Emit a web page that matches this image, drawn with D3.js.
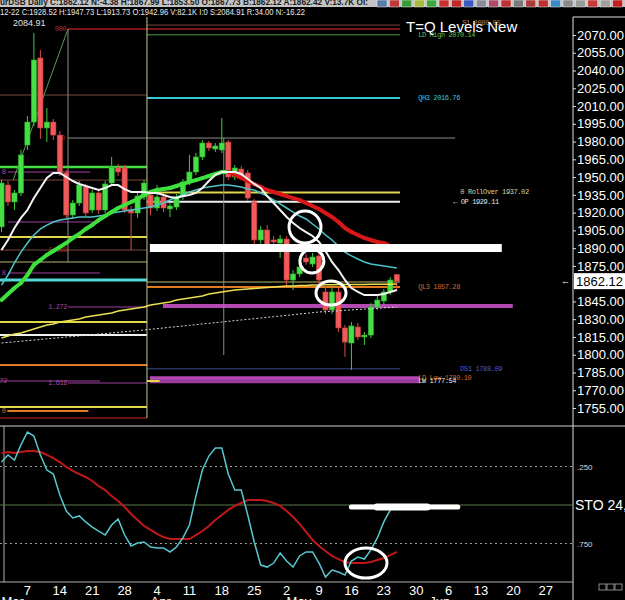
<!DOCTYPE html>
<html>
<head>
<meta charset="utf-8">
<script src="https://cdn.jsdelivr.net/npm/d3@7"></script>
<style>
  body { margin: 0; background: #000; overflow: hidden; }
  svg { display: block; }
</style>
</head>
<body>
<div id="chart"></div>
<script>
// daily bars (index 0 = first visible bar)
const opens = [1907.9,1943.3,1929.0,1936.6,1977.1,1996.5,2050.6,1991.5,1996.5,1985.5,
  1953.5,1918.0,1928.1,1941.6,1922.2,1936.6,1922.2,1945.0,1957.7,1957.7,
  1922.2,1919.7,1933.2,1934.9,1923.9,1933.2,1923.1,1924.7,1933.2,1945.9,
  1954.3,1967.0,1978.8,1973.7,1972.9,1979.6,1950.1,1956.8,1953.5,1929.0,
  1896.9,1905.3,1896.9,1894.3,1897.7,1863.1,1868.2,1881.7,1876.6,1883.4,
  1853.0,1837.8,1853.0,1822.6,1809.9,1823.4,1815.0,1816.6,1840.3,1845.4,
  1853.0,1867.73]
const highs = [1947.5,1946.7,1939.1,1972.9,2001.6,2071.7,2057.3,2008.4,1999.1,1988.9,
  1956.0,1930.7,1946.7,1944.2,1939.1,1939.1,1946.7,1967.0,1961.1,1960.2,
  1925.6,1937.4,1947.5,1937.4,1943.3,1936.6,1928.1,1935.7,1948.4,1968.7,
  1970.3,1981.3,1980.5,1978.8,1999.9,1981.3,1960.2,1959.4,1956.0,1931.5,
  1908.7,1909.5,1900.2,1901.1,1900.2,1871.5,1877.5,1885.1,1885.9,1885.9,
  1858.0,1856.3,1856.3,1825.1,1827.6,1826.8,1819.2,1843.7,1849.6,1855.5,
  1865.6,1867.99]
const lows = [1903.6,1925.6,1922.2,1934.0,1972.9,1993.1,1982.2,1979.6,1981.3,1950.9,
  1914.6,1914.6,1925.6,1917.1,1919.7,1918.8,1919.7,1942.5,1950.9,1919.7,
  1888.4,1915.5,1930.7,1918.0,1921.4,1920.5,1916.3,1922.2,1930.7,1943.3,
  1951.8,1964.4,1972.0,1971.2,1970.3,1947.5,1947.5,1947.5,1929.8,1893.5,
  1893.5,1886.7,1888.4,1881.7,1858.0,1854.6,1865.6,1875.8,1874.1,1858.9,
  1834.4,1834.4,1819.2,1798.1,1787.1,1812.4,1808.2,1814.1,1837.8,1842.8,
  1850.4,1853.50]
const closes = [1945.0,1929.0,1936.6,1968.7,1996.5,2048.9,1991.5,1996.5,1985.5,1953.5,
  1918.0,1928.1,1943.3,1919.7,1936.6,1922.2,1944.2,1958.5,1954.3,1922.2,
  1919.7,1934.0,1945.0,1923.9,1933.2,1923.9,1925.6,1933.2,1945.9,1954.3,
  1967.0,1978.8,1974.6,1976.3,1978.8,1950.1,1957.7,1950.1,1932.3,1896.9,
  1905.3,1890.1,1895.2,1897.7,1863.1,1868.2,1874.1,1878.3,1882.5,1863.1,
  1837.8,1853.0,1822.6,1810.7,1824.3,1815.0,1816.6,1840.3,1846.2,1853.0,
  1863.1,1862.12]

// moving averages
const maSlow = [1846.2,1851.3,1856.3,1860.6,1867.3,1875.8,1880.0,1884.2,1887.6,1891.0,
  1894.3,1898.6,1901.9,1906.2,1909.5,1913.8,1917.1,1920.5,1923.9,1926.4,
  1929.0,1931.5,1934.9,1937.4,1939.1,1939.9,1940.8,1942.5,1944.2,1945.9,
  1947.5,1949.2,1950.9,1952.6,1954.3,1954.3,1951.8,1949.2,1946.7,1944.2,
  1941.6,1939.1,1937.4,1935.7,1934.0,1932.3,1930.7,1928.1,1925.6,1923.1,
  1919.7,1916.3,1912.1,1907.0,1903.6,1901.1,1898.6,1896.9,1895.2,1894.3,
  1891.8,1889.3]
const maFast = [1888.4,1896.9,1907.0,1915.5,1922.2,1932.3,1940.8,1949.2,1953.5,1953.5,
  1950.1,1946.7,1944.2,1942.5,1940.8,1939.1,1940.8,1943.3,1943.3,1939.9,
  1937.4,1937.4,1937.4,1936.6,1936.6,1934.9,1933.2,1932.3,1934.0,1934.9,
  1936.6,1940.8,1946.7,1951.8,1954.3,1954.3,1954.3,1952.6,1948.4,1944.2,
  1940.8,1934.0,1928.1,1922.2,1916.3,1911.2,1907.0,1903.6,1900.3,1895.2,
  1887.6,1878.3,1871.5,1863.1,1856.3,1853.0,1850.4,1850.4,1850.4,1851.3,
  1853.0,1854.7]
const maMid = [1858.9,1867.3,1877.5,1886.7,1894.3,1901.1,1906.2,1909.5,1912.1,1913.8,
  1914.6,1915.5,1916.3,1916.3,1916.3,1917.1,1918.0,1919.7,1920.5,1921.4,
  1922.2,1923.1,1923.9,1924.7,1926.4,1928.1,1930.7,1933.2,1934.9,1937.4,
  1939.1,1940.8,1941.6,1942.5,1943.3,1943.3,1942.5,1941.6,1939.9,1939.1,
  1936.6,1934.0,1930.7,1927.3,1923.9,1920.5,1917.1,1914.6,1910.4,1906.2,
  1901.1,1896.9,1891.8,1886.7,1883.4,1880.8,1878.3,1876.6,1875.8,1874.9,
  1874.1,1873.2]
const maLong = [1814.1,1815.8,1817.5,1818.3,1820.0,1821.7,1823.4,1825.1,1825.9,1827.6,
  1828.5,1829.3,1830.2,1831.8,1832.7,1833.5,1834.4,1835.2,1836.9,1837.8,
  1838.6,1839.4,1840.3,1842.0,1842.8,1843.7,1844.5,1846.2,1847.0,1847.9,
  1848.7,1849.6,1851.3,1852.1,1853.0,1853.8,1854.7,1855.1,1855.5,1855.9,
  1856.3,1856.8,1857.2,1857.6,1858.0,1858.0,1858.5,1858.5,1858.9,1858.9,
  1859.0,1859.1,1859.2,1859.3,1859.3,1859.4,1859.4,1859.5,1859.5,1859.6,
  1859.6,1859.7]
const maDotted = [1809.9,1810.4,1810.9,1811.4,1811.9,1812.4,1812.9,1813.4,1813.9,1814.4,
  1814.9,1815.4,1815.9,1816.4,1816.9,1817.4,1817.9,1818.4,1818.9,1819.4,
  1819.9,1820.4,1820.9,1821.5,1822.0,1822.6,1823.2,1823.7,1824.3,1824.8,
  1825.4,1826.0,1826.5,1827.1,1827.6,1828.2,1828.8,1829.3,1829.9,1830.4,
  1831.0,1831.6,1832.1,1832.7,1833.2,1833.8,1834.4,1834.9,1835.5,1836.1,
  1836.4,1836.8,1837.1,1837.5,1837.8,1838.2,1838.5,1838.9,1839.2,1839.6,
  1839.9,1840.3]

// stochastic
const stoK = [77.9,82.5,79.2,89.0,97.4,94.8,82.5,72.7,70.1,56.5,
  46.1,41.6,42.9,39.0,35.7,33.1,30.5,37.0,40.9,30.5,
  23.4,25.3,26.0,22.7,22.1,22.1,19.5,22.7,28.6,37.0,
  55.8,72.7,81.8,87.0,87.0,70.1,59.7,59.7,43.5,26.0,
  11.0,9.7,12.3,18.8,13.6,9.7,16.9,19.5,19.5,12.3,
  3.2,7.8,6.5,4.5,13.6,16.2,14.9,20.8,28.6,39.0,
  46.8,48.7]
const stoD = [83.8,84.4,83.8,84.4,85.1,85.1,84.4,82.5,80.5,77.9,
  74.7,72.1,70.1,68.2,65.6,62.3,59.7,55.8,52.6,48.7,
  44.2,40.3,36.4,33.8,31.2,29.2,27.9,27.9,27.9,27.9,
  30.5,33.1,36.4,40.3,43.5,46.8,49.4,51.3,53.2,53.2,
  53.2,52.6,51.3,49.4,46.1,42.2,37.7,32.5,27.3,23.4,
  20.1,16.9,14.9,13.0,12.3,12.3,12.3,13.0,14.3,15.6,
  17.5,19.5]

const priceTicks = [2070,2055,2040,2025,2010,1995,1980,1965,1950,1935,1920,1905,1890,1875,1845,1830,1815,1800,1785,1770,1755]
const lastPrice = 1862.12
const dayTickBars = [4,9,14,19,24,29,34,39,44,49,54,59,64,69,74,79,84]
const dayTickLabels = ['7','14','21','28','4','11','18','25','2','9','16','23','30','6','13','20','27']
const monthBars = [0, 23, 44, 66]
const monthLabels = ['Mar', 'Apr', 'May', 'Jun']

// horizontal levels: price, from bar, to bar, kind
const levels = [
  {price: 2078.4, from: 22.45, to: 61.5, kind: 'brown'},
  {price: 2075.1, from: 10.26, to: 61.5, kind: 'fibRed'},
  {price: 2070.14, from: 22.45, to: 61.5, kind: 'ldHigh'},
  {price: 2019.3, from: -1, to: 22.45, kind: 'brown'},
  {price: 2016.76, from: 22.45, to: 61.5, kind: 'qh3'},
  {price: 1983.0, from: 10.26, to: 70, kind: 'gray'},
  {price: 1958.5, from: -1, to: 22.45, kind: 'green'},
  {price: 1954.3, from: 1, to: 13.7, kind: 'magenta'},
  {price: 1947.5, from: -1, to: 22.45, kind: 'brown'},
  {price: 1937.02, from: 22.45, to: 61.5, kind: 'yellow'},
  {price: 1929.11, from: 22.45, to: 61.5, kind: 'white'},
  {price: 1912.1, from: 1, to: 15.2, kind: 'magenta'},
  {price: 1899.4, from: -1, to: 22.45, kind: 'yellow'},
  {price: 1888.4, from: -1, to: 22.45, kind: 'brown'},
  {price: 1878.3, from: -1, to: 22.45, kind: 'olive'},
  {price: 1869.0, from: 1, to: 15.2, kind: 'magenta'},
  {price: 1863.1, from: -1, to: 22.45, kind: 'cyanThick'},
  {price: 1861.4, from: 22.45, to: 61.5, kind: 'olive'},
  {price: 1857.28, from: 22.45, to: 61.5, kind: 'orange'},
  {price: 1840.3, from: 10.26, to: 22.45, kind: 'magenta'},
  {price: 1841.1, from: 24.9, to: 78.9, kind: 'magentaBar'},
  {price: 1827.6, from: -1, to: 22.45, kind: 'yellow'},
  {price: 1816.6, from: -1, to: 22.45, kind: 'white'},
  {price: 1791.3, from: -1, to: 22.45, kind: 'orange'},
  {price: 1788.09, from: 22.45, to: 61.5, kind: 'ds1'},
  {price: 1780.10, from: 22.9, to: 64.6, kind: 'magentaBar'},
  {price: 1777.54, from: 22.9, to: 64.6, kind: 'magentaBar2'},
  {price: 1777.8, from: -1, to: 15.2, kind: 'magenta'},
  {price: 1776.1, from: 10.26, to: 22.45, kind: 'magenta'},
  {price: 1777.8, from: 22.45, to: 24.4, kind: 'yellow'},
  {price: 1755.8, from: -1, to: 22.45, kind: 'yellow'},
  {price: 1752.5, from: 0.9, to: 13.4, kind: 'orange'},
  {price: 1746.6, from: -1, to: 22.45, kind: 'darkRed'}
]
const vLines = [
  {bar: 22.45, top: 2085.5, bottom: 1746.6, kind: 'paleYellow'},
  {bar: 10.26, top: 2075.1, bottom: 1878.3, kind: 'gray'},
  {bar: 34.3, top: 1983.0, bottom: 1799.7, kind: 'gray'}
]
const levelLabels = [
  {text: '000', bar: 8.2, price: 2075.1, kind: 'fibRed'},
  {text: '50', bar: 8.6, price: 1983.0, kind: 'fibRed'},
  {text: '8', bar: 0.05, price: 1954.3, kind: 'magenta'},
  {text: '8', bar: 0.05, price: 1869.0, kind: 'magenta'},
  {text: '1.000', bar: 7.2, price: 1888.4, kind: 'fibRed'},
  {text: '1.272', bar: 7.2, price: 1840.3, kind: 'magenta'},
  {text: '72', bar: -0.3, price: 1777.8, kind: 'magenta'},
  {text: '1.618', bar: 7.2, price: 1776.1, kind: 'magenta'},
  {text: '0', bar: 0.05, price: 1752.5, kind: 'orange'},
  {text: 'S1 2080.05', bar: 71.1, price: 2080.05, kind: 'tan'},
  {text: 'LD High 2070.14', bar: 64.3, price: 2070.14, kind: 'ldHigh'},
  {text: 'QH3 2016.76', bar: 64.3, price: 2016.76, kind: 'qh3'},
  {text: '0 RollOver 1937.02', bar: 70.8, price: 1937.02, kind: 'pale'},
  {text: '\u2190  OP 1929.11', bar: 69.7, price: 1929.11, kind: 'white'},
  {text: 'QL3 1857.28', bar: 64.3, price: 1857.28, kind: 'orange'},
  {text: 'DS1 1788.09', bar: 70.8, price: 1788.09, kind: 'ds1'},
  {text: 'LD Low 1780.10', bar: 64.3, price: 1780.10, kind: 'orange'},
  {text: 'LW 1777.54', bar: 64.3, price: 1777.54, kind: 'white'}
]
// hand drawn marks: circles on price / stochastic, bars
const priceCircles = [
  {bar: 46.84, price: 1907.8, rx: 16, ry: 16},
  {bar: 47.9, price: 1879.1, rx: 12, ry: 12},
  {bar: 50.85, price: 1852.1, rx: 15, ry: 12}
]
const stoCircle = {bar: 56.25, value: 12.3, rx: 21, ry: 15}
const priceBar = {price: 1890.1, from: 22.9, to: 77.2}
const stoBar = {value: 48.7, from: 53.6, to: 70.8}
const fibDiagonal = [[1.8, 1947.5], [10.26, 2075.1]]

const lineStyle = {
  brown: ['#7a4a3a', 1], fibRed: ['#a81c1c', 1.5], ldHigh: ['#4c9a4c', 1],
  qh3: ['#38c8d8', 2], gray: ['#8c8c8c', 1], green: ['#40e040', 2.5],
  magenta: ['#a040a0', 1], yellow: ['#e0d84a', 2], white: ['#f0f0f0', 2],
  olive: ['#7a7a48', 1.5], cyanThick: ['#50d8d8', 3], orange: ['#e07a20', 2],
  magentaBar: ['#b449b4', 4], magentaBar2: ['#9c3c9c', 4], ds1: ['#3a4a8a', 1],
  darkRed: ['#8a1a1a', 1.5], paleYellow: ['#c8c890', 1]
}
const labelColor = {
  fibRed: '#b03030', magenta: '#a848a8', orange: '#d06a30', tan: '#b08050',
  ldHigh: '#60c060', qh3: '#40c8d8', pale: '#d8d8a0', white: '#e8e8e8', ds1: '#4a5ad0'
}
const iconColors = ['#5a7aa8','#c03a3a','#3a9a3a','#a8b83a','#3aa83a','#c83030','#c02828','#3a5ac0',
  '#8a8a9a','#b04a6a','#c03030','#7a7a7a','#b03a3a','#c03030','#3a8ac8','#8a8a8a','#9a9a9a','#c83a3a','#a0a0a0','#c02020']

const W = 625, H = 600
const svg = d3.select('#chart').append('svg')
  .attr('width', W).attr('height', H)
  .style('background', '#000')

const x = d3.scaleLinear().domain([0, 61]).range([1.5, 1.5 + 6.48 * 61])
const y = d3.scaleLinear().domain([1755, 2070]).range([408, 35])
const yo = d3.scaleLinear().domain([0, 100]).range([582, 428])

svg.append('clipPath').attr('id', 'clipPrice')
  .append('rect').attr('x', 0).attr('y', 17).attr('width', 573).attr('height', 409)
svg.append('clipPath').attr('id', 'clipSto')
  .append('rect').attr('x', 0).attr('y', 427).attr('width', 573).attr('height', 155)

// header rows
svg.append('rect').attr('x', 0).attr('y', 0).attr('width', W).attr('height', 7).attr('fill', '#c4c4c4')
svg.append('text').attr('x', 0).attr('y', 5)
  .attr('font-family', 'Liberation Sans').attr('font-size', 9).attr('font-weight', 'bold').attr('fill', '#1a1a1a')
  .attr('textLength', 368).attr('lengthAdjust', 'spacingAndGlyphs')
  .text('urDSB Daily  C:1862.12  N:-4.38  H:1867.99  L:1853.50  O:1867.73  B:1862.12  A:1862.42  V:13.7K  OI:')
svg.append('g').selectAll('rect').data(iconColors).enter().append('rect')
  .attr('x', (d, i) => 377 + i * 12.4).attr('y', 0).attr('width', 10).attr('height', 7)
  .attr('fill', d => d).attr('stroke', '#eee').attr('stroke-width', 0.5)
svg.append('text').attr('x', 0).attr('y', 15)
  .attr('font-family', 'Liberation Sans').attr('font-size', 8.5).attr('fill', '#e8e8e8')
  .attr('textLength', 305).attr('lengthAdjust', 'spacingAndGlyphs')
  .text('12-22  C:1928.52  H:1947.73  L:1913.73  O:1942.96  V:82.1K  I:0  S:2084.91  R:34.00  N:-16.22')

// price pane
const pane = svg.append('g').attr('clip-path', 'url(#clipPrice)')

pane.append('g').selectAll('line').data(levels).enter().append('line')
  .attr('x1', d => x(d.from)).attr('x2', d => x(d.to))
  .attr('y1', d => y(d.price)).attr('y2', d => y(d.price))
  .attr('stroke', d => lineStyle[d.kind][0]).attr('stroke-width', d => lineStyle[d.kind][1])

pane.append('g').selectAll('line').data(vLines).enter().append('line')
  .attr('x1', d => x(d.bar)).attr('x2', d => x(d.bar))
  .attr('y1', d => y(d.top)).attr('y2', d => y(d.bottom))
  .attr('stroke', d => lineStyle[d.kind][0]).attr('stroke-width', 1)

pane.append('line')
  .attr('x1', x(fibDiagonal[0][0])).attr('y1', y(fibDiagonal[0][1]))
  .attr('x2', x(fibDiagonal[1][0])).attr('y2', y(fibDiagonal[1][1]))
  .attr('stroke', '#5a9a5a').attr('stroke-width', 1)

pane.append('g').selectAll('text').data(levelLabels).enter().append('text')
  .attr('x', d => x(d.bar)).attr('y', d => y(d.price))
  .attr('dominant-baseline', 'central')
  .attr('font-family', 'Liberation Mono').attr('font-size', 7).attr('letter-spacing', -0.4)
  .attr('fill', d => labelColor[d.kind])
  .text(d => d.text)

// candles
const bars = d3.range(opens.length)
const up = i => closes[i] >= opens[i]
const candles = pane.append('g').selectAll('g').data(bars).enter().append('g')
candles.append('line')
  .attr('x1', i => x(i)).attr('x2', i => x(i))
  .attr('y1', i => y(highs[i])).attr('y2', i => y(lows[i]))
  .attr('stroke', i => up(i) ? '#3ccf3c' : '#e04848').attr('stroke-width', 1)
candles.append('rect')
  .attr('x', i => x(i) - 2.6).attr('width', 5.2)
  .attr('y', i => y(Math.max(opens[i], closes[i])))
  .attr('height', i => Math.max(1.5, Math.abs(y(opens[i]) - y(closes[i]))))
  .attr('fill', i => up(i) ? '#46e046' : '#f05a5a')
  .attr('stroke', i => up(i) ? '#2aa82a' : '#c03a3a').attr('stroke-width', 0.6)

// moving averages
const maLine = d3.line().x((d, i) => x(i)).y(d => y(d))
pane.append('path').datum(maDotted).attr('d', maLine)
  .attr('fill', 'none').attr('stroke', '#d8d8d8').attr('stroke-width', 1).attr('stroke-dasharray', '2,2')
pane.append('path').datum(maLong).attr('d', maLine)
  .attr('fill', 'none').attr('stroke', '#e8e050').attr('stroke-width', 1.5)
pane.append('path').datum(maMid).attr('d', maLine)
  .attr('fill', 'none').attr('stroke', '#4ec4c8').attr('stroke-width', 1.5)
pane.append('g').selectAll('line').data(d3.range(maSlow.length - 1)).enter().append('line')
  .attr('x1', i => x(i)).attr('y1', i => y(maSlow[i]))
  .attr('x2', i => x(i + 1)).attr('y2', i => y(maSlow[i + 1]))
  .attr('stroke', i => maSlow[i + 1] >= maSlow[i] ? '#3ee03e' : '#d81818')
  .attr('stroke-width', 4).attr('stroke-linecap', 'round')
pane.append('path').datum(maFast).attr('d', maLine)
  .attr('fill', 'none').attr('stroke', '#f4f4f4').attr('stroke-width', 2)

// hand drawn marks
pane.append('rect')
  .attr('x', x(priceBar.from)).attr('width', x(priceBar.to) - x(priceBar.from))
  .attr('y', y(priceBar.price) - 4).attr('height', 8).attr('fill', '#fff')
pane.append('g').selectAll('ellipse').data(priceCircles).enter().append('ellipse')
  .attr('cx', d => x(d.bar)).attr('cy', d => y(d.price))
  .attr('rx', d => d.rx).attr('ry', d => d.ry)
  .attr('fill', 'none').attr('stroke', '#fff').attr('stroke-width', 3)

svg.append('text').attr('x', 13).attr('y', 26)
  .attr('font-family', 'Liberation Sans').attr('font-size', 9).attr('fill', '#e0e0e0').text('2084.91')
svg.append('text').attr('x', 406).attr('y', 32)
  .attr('font-family', 'Liberation Sans').attr('font-size', 15).attr('fill', '#fff').text('T=Q Levels New')

// price axis
svg.append('line').attr('x1', 573).attr('x2', 573).attr('y1', 17).attr('y2', H)
  .attr('stroke', '#e0e0e0').attr('stroke-width', 1)
svg.append('line').attr('x1', 573).attr('x2', W).attr('y1', 17).attr('y2', 17)
  .attr('stroke', '#e0e0e0').attr('stroke-width', 1)
svg.append('g').attr('transform', 'translate(573,0)')
  .call(d3.axisRight(y).tickValues(priceTicks).tickFormat(d3.format('.2f')).tickSize(3).tickPadding(1))
  .call(g => g.select('.domain').remove())
  .call(g => g.selectAll('line').attr('stroke', '#e0e0e0'))
  .call(g => g.selectAll('text').attr('fill', '#fff').attr('font-family', 'Liberation Sans').attr('font-size', 13))

svg.append('rect').attr('x', 574).attr('y', y(lastPrice) - 8).attr('width', 51).attr('height', 16)
  .attr('fill', '#fff')
svg.append('text').attr('x', 576).attr('y', y(lastPrice) + 5)
  .attr('font-family', 'Liberation Sans').attr('font-size', 13).attr('fill', '#000').text('1862.12')
svg.append('text').attr('x', 561).attr('y', y(lastPrice) + 3)
  .attr('font-family', 'Liberation Sans').attr('font-size', 9).attr('fill', '#fff').text('\u2190')

// stochastic pane
svg.append('line').attr('x1', 0).attr('x2', W).attr('y1', 426).attr('y2', 426)
  .attr('stroke', '#d0d0d0').attr('stroke-width', 1)
svg.append('line').attr('x1', 4).attr('x2', 4).attr('y1', 426).attr('y2', 582)
  .attr('stroke', '#b0b0b0').attr('stroke-width', 1)
svg.append('line').attr('x1', 0).attr('x2', 573).attr('y1', 582).attr('y2', 582)
  .attr('stroke', '#b0b0b0').attr('stroke-width', 1)
svg.append('g').selectAll('line').data([75, 25]).enter().append('line')
  .attr('x1', 0).attr('x2', 573).attr('y1', d => yo(d)).attr('y2', d => yo(d))
  .attr('stroke', '#9a9a9a').attr('stroke-width', 1).attr('stroke-dasharray', '2,3')
svg.append('line').attr('x1', 0).attr('x2', 573).attr('y1', yo(50)).attr('y2', yo(50))
  .attr('stroke', '#5a7a4a').attr('stroke-width', 1)

const sto = svg.append('g').attr('clip-path', 'url(#clipSto)')
const stoLine = d3.line().x((d, i) => x(i)).y(d => yo(d))
sto.append('path').datum(stoD).attr('d', stoLine)
  .attr('fill', 'none').attr('stroke', '#c01818').attr('stroke-width', 2)
sto.append('path').datum(stoK).attr('d', stoLine)
  .attr('fill', 'none').attr('stroke', '#58c8d0').attr('stroke-width', 1.5)
sto.append('rect')
  .attr('x', x(stoBar.from)).attr('width', x(stoBar.to) - x(stoBar.from))
  .attr('y', yo(stoBar.value) - 2.5).attr('height', 5).attr('rx', 2.5).attr('fill', '#fff')
sto.append('rect')
  .attr('x', x(stoBar.from) + 25).attr('width', x(stoBar.to) - x(stoBar.from) - 55)
  .attr('y', yo(stoBar.value) - 3.5).attr('height', 7).attr('rx', 3).attr('fill', '#fff')
sto.append('ellipse')
  .attr('cx', x(stoCircle.bar)).attr('cy', yo(stoCircle.value))
  .attr('rx', stoCircle.rx).attr('ry', stoCircle.ry)
  .attr('fill', 'none').attr('stroke', '#fff').attr('stroke-width', 3)

svg.append('g').selectAll('text').data([[75, '.250'], [25, '.750']]).enter().append('text')
  .attr('x', 577).attr('y', d => yo(d[0]) + 3)
  .attr('font-family', 'Liberation Sans').attr('font-size', 8).attr('fill', '#d8d8d8')
  .text(d => d[1])
svg.append('text').attr('x', 575).attr('y', yo(50) + 5)
  .attr('font-family', 'Liberation Sans').attr('font-size', 14).attr('fill', '#fff').text('STO  24,')
svg.append('g').selectAll('rect').data([0, 1, 2]).enter().append('rect')
  .attr('x', d => 599 + d * 8).attr('y', 584).attr('width', 7).attr('height', 6)
  .attr('fill', 'none').attr('stroke', '#aaa').attr('stroke-width', 0.8)

// date axis
svg.append('g').selectAll('text').data(dayTickBars).enter().append('text')
  .attr('x', d => x(d)).attr('y', 595)
  .attr('text-anchor', 'middle')
  .attr('font-family', 'Liberation Sans').attr('font-size', 13).attr('fill', '#fff')
  .text((d, i) => dayTickLabels[i])
svg.append('g').selectAll('text').data(monthBars).enter().append('text')
  .attr('x', d => x(d)).attr('y', 606)
  .attr('font-family', 'Liberation Sans').attr('font-size', 13).attr('fill', '#fff')
  .text((d, i) => monthLabels[i])
</script>
</body>
</html>
